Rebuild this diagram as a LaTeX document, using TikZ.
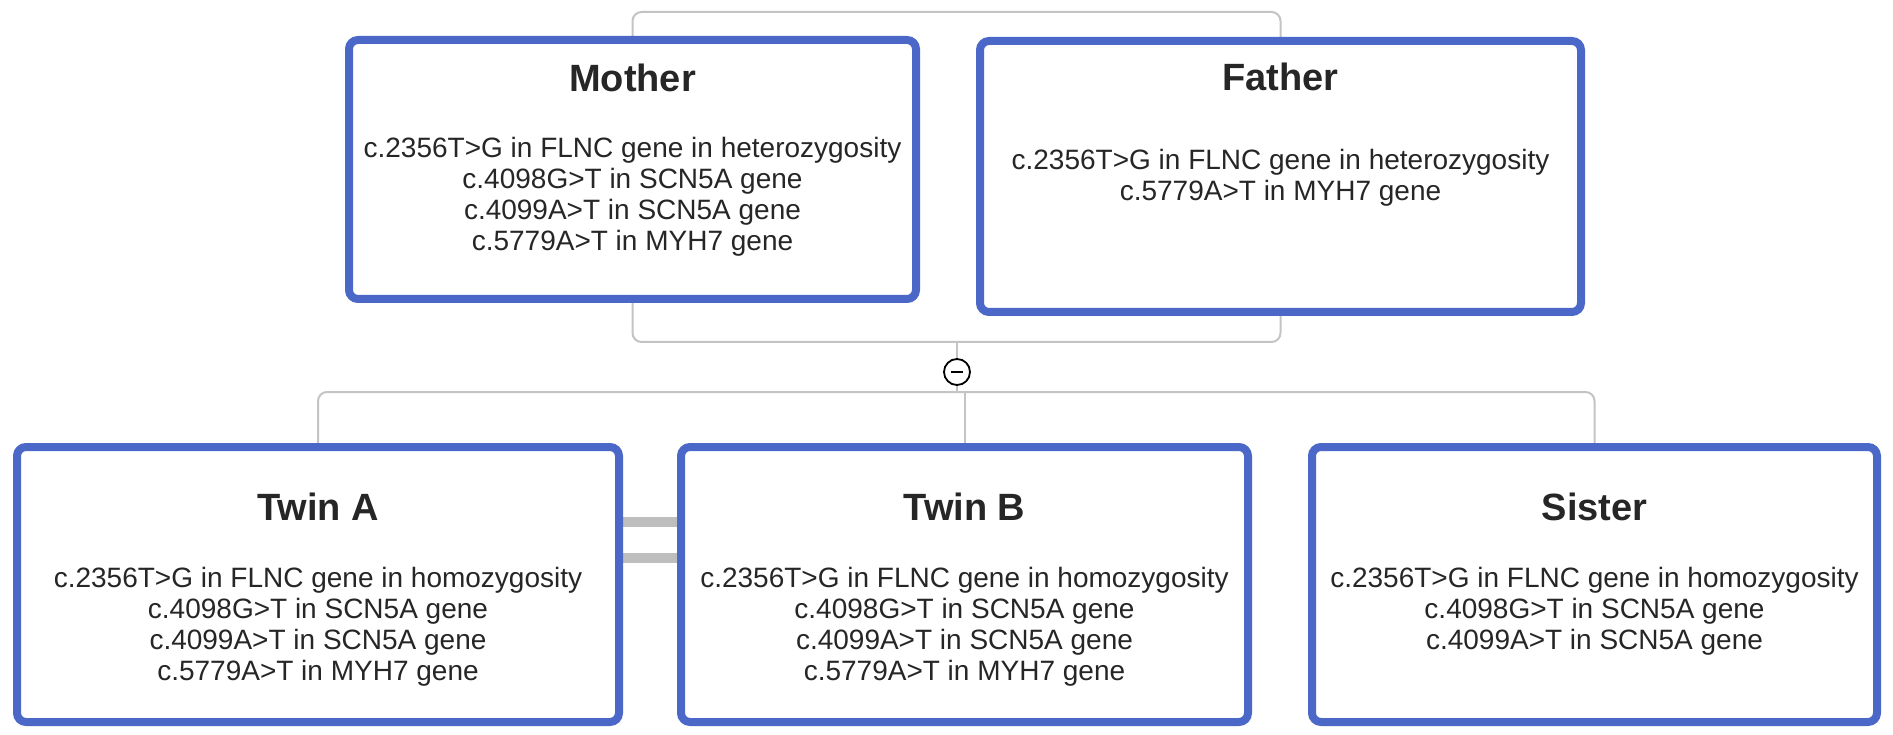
\documentclass[tikz,border=0pt]{standalone}
\usepackage{fontspec}
\setmainfont{Liberation Sans}
\usetikzlibrary{backgrounds}
\definecolor{boxblue}{RGB}{75,104,200}
\definecolor{conngray}{RGB}{196,196,196}
\definecolor{bargray}{RGB}{190,190,190}
\definecolor{txt}{RGB}{38,38,38}
\begin{document}
\begin{tikzpicture}[x=1pt,y=-1pt,
 personbox/.style={draw=boxblue, line width=8pt, rounded corners=9pt, fill=white, inner sep=0pt},
 titletext/.style={font=\fontsize{38}{42}\selectfont\bfseries, text=txt, inner sep=0pt},
 bodytext/.style={font=\fontsize{28}{31}\selectfont, text=txt, align=center, inner sep=0pt, anchor=north},
 conn/.style={draw=conngray, line width=2pt, rounded corners=9pt},
 eqbar/.style={draw=bargray, line width=10pt},
]
\useasboundingbox (0,0) rectangle (1893,735);

\node[personbox, minimum width=567pt, minimum height=259pt] (mother) at (632.5,169.5) {};
\node[personbox, minimum width=601pt, minimum height=271pt] (father) at (1280.5,176.5) {};
\node[personbox, minimum width=602pt, minimum height=275pt] (twina) at (318,584.5) {};
\node[personbox, minimum width=567pt, minimum height=275pt] (twinb) at (964.5,584.5) {};
\node[personbox, minimum width=565pt, minimum height=275pt] (sister) at (1594.5,584.5) {};

\node[titletext] (mothert) at (632.5,78) {Mother};
\node[titletext] (fathert) at (1280.5,77) {Father};
\node[titletext] (twinat) at (318,507) {Twin A};
\node[titletext] (twinbt) at (964.5,507) {Twin B};
\node[titletext] (sistert) at (1594.5,507) {Sister};

\node[bodytext] (motherb) at (632.5,137) {c.2356T>G in FLNC gene in heterozygosity\\c.4098G>T in SCN5A gene\\c.4099A>T in SCN5A gene\\c.5779A>T in MYH7 gene};
\node[bodytext] (fatherb) at (1280.5,149) {c.2356T>G in FLNC gene in heterozygosity\\c.5779A>T in MYH7 gene};
\node[bodytext] (twinab) at (318,567) {c.2356T>G in FLNC gene in homozygosity\\c.4098G>T in SCN5A gene\\c.4099A>T in SCN5A gene\\c.5779A>T in MYH7 gene};
\node[bodytext] (twinbb) at (964.5,567) {c.2356T>G in FLNC gene in homozygosity\\c.4098G>T in SCN5A gene\\c.4099A>T in SCN5A gene\\c.5779A>T in MYH7 gene};
\node[bodytext] (sisterb) at (1594.5,567) {c.2356T>G in FLNC gene in homozygosity\\c.4098G>T in SCN5A gene\\c.4099A>T in SCN5A gene};

\coordinate (ptop) at (957,12);
\coordinate (pbot) at (957,342);
\coordinate (pbus) at (957,392);
\coordinate (e1) at (0,522);
\coordinate (e2) at (0,558);

\node[draw=black, line width=1.8pt, circle, minimum size=26pt, inner sep=0pt, fill=white] (minus) at (957,372) {};
\draw[line width=2.5pt, black] ([xshift=-6pt]minus.center) -- ([xshift=6pt]minus.center);

\begin{pgfonlayer}{background}
\fill[white] (0,0) rectangle (1893,735);
\draw[conn] (mother.north) |- (ptop) -| (father.north);
\draw[conn] (mother.south) |- (pbot) -| (father.south);
\draw[conn] (pbot) -- (minus.north);
\draw[conn] (minus.south) -- (pbus);
\draw[conn] (twina.north) |- (pbus) -| (sister.north);
\draw[conn] (twinb.north) -- (twinb.north |- pbus);
\draw[eqbar] (twina.east |- e1) -- (twinb.west |- e1);
\draw[eqbar] (twina.east |- e2) -- (twinb.west |- e2);
\end{pgfonlayer}
\end{tikzpicture}
\end{document}
